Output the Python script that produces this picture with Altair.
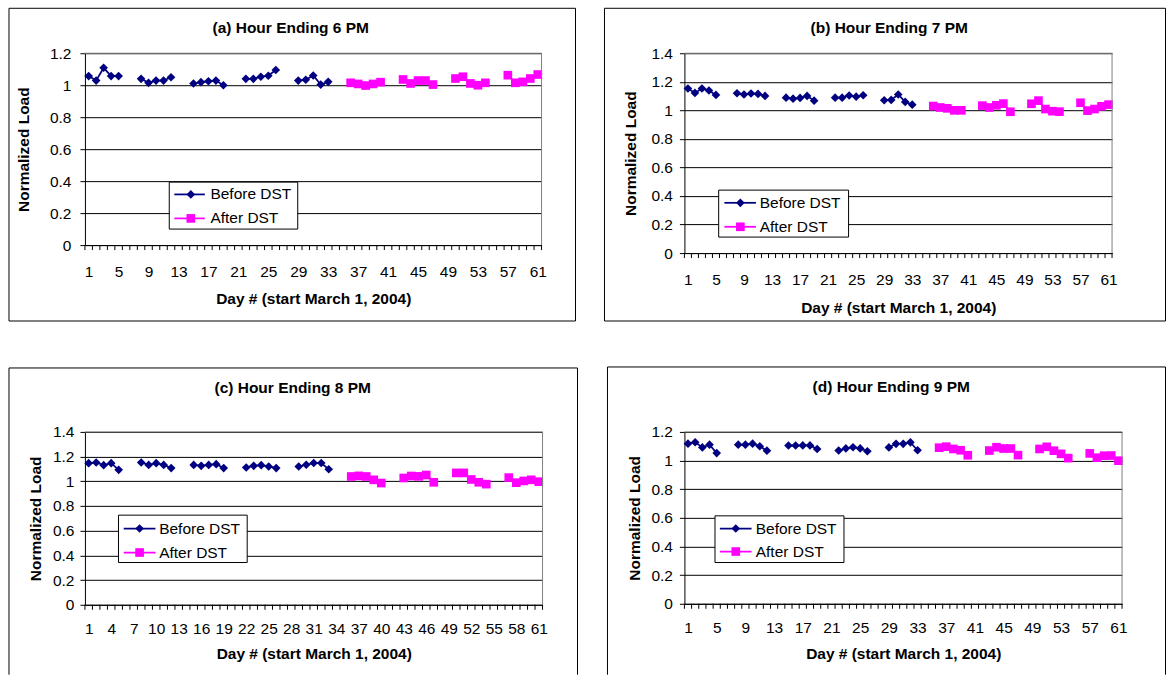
import altair as alt
import pandas as pd

# ---------------- data ----------------
days = list(range(1, 62))
days_before = [1, 2, 3, 4, 5, 8, 9, 10, 11, 12, 15, 16, 17, 18, 19,
               22, 23, 24, 25, 26, 29, 30, 31, 32, 33]
days_after = [36, 37, 38, 39, 40, 43, 44, 45, 46, 47, 50, 51, 52, 53, 54,
              57, 58, 59, 60, 61]
series_names = ["Before DST", "After DST"]
series_colors = ["#000080", "#FF00FF"]
series_shapes = ["diamond", "square"]

titles = ["(a) Hour Ending 6 PM", "(b) Hour Ending 7 PM",
          "(c) Hour Ending 8 PM", "(d) Hour Ending 9 PM"]
x_title = "Day # (start March 1, 2004)"
y_title = "Normalized Load"

a_before = [1.057, 1.029, 1.109, 1.057, 1.057,
            1.040, 1.015, 1.029, 1.029, 1.050,
            1.011, 1.019, 1.025, 1.029, 1.000,
            1.040, 1.040, 1.053, 1.059, 1.095,
            1.029, 1.034, 1.061, 1.004, 1.021]
a_after = [1.015, 1.008, 0.998, 1.008, 1.019,
           1.036, 1.011, 1.029, 1.029, 1.004,
           1.042, 1.053, 1.011, 1.000, 1.015,
           1.063, 1.015, 1.021, 1.042, 1.067]

b_before = [1.153, 1.122, 1.153, 1.139, 1.108,
            1.120, 1.111, 1.118, 1.115, 1.101,
            1.089, 1.082, 1.087, 1.101, 1.068,
            1.089, 1.089, 1.104, 1.096, 1.106,
            1.071, 1.073, 1.111, 1.059, 1.040]
b_after = [1.030, 1.020, 1.014, 1.000, 1.000,
           1.033, 1.020, 1.035, 1.047, 0.990,
           1.046, 1.068, 1.009, 0.994, 0.991,
           1.053, 0.998, 1.009, 1.028, 1.040]

c_before = [1.147, 1.152, 1.131, 1.147, 1.093,
            1.152, 1.133, 1.147, 1.133, 1.107,
            1.133, 1.125, 1.133, 1.139, 1.107,
            1.112, 1.125, 1.131, 1.120, 1.107,
            1.120, 1.134, 1.148, 1.148, 1.098]
c_after = [1.039, 1.044, 1.039, 1.012, 0.986,
           1.027, 1.043, 1.040, 1.051, 0.992,
           1.068, 1.068, 1.015, 0.992, 0.977,
           1.030, 0.989, 1.003, 1.012, 0.997]

d_before = [1.118, 1.128, 1.092, 1.111, 1.052,
            1.111, 1.111, 1.118, 1.100, 1.069,
            1.105, 1.105, 1.106, 1.106, 1.081,
            1.070, 1.085, 1.093, 1.085, 1.065,
            1.092, 1.117, 1.117, 1.127, 1.072]
d_after = [1.090, 1.097, 1.081, 1.072, 1.037,
           1.070, 1.093, 1.084, 1.084, 1.038,
           1.081, 1.096, 1.069, 1.047, 1.017,
           1.050, 1.020, 1.034, 1.035, 0.999]

panel_before = [a_before, b_before, c_before, d_before]
panel_after = [a_after, b_after, c_after, d_after]
y_max = [1.2, 1.4, 1.4, 1.2]
label_step = [4, 4, 3, 4]

# ---------------- layout (pixels, relative to each plot area) ----------------
FONT = "Liberation Sans"
FS = 15.5
G = [
    dict(w=457, h=192, border=(-76, 491, -45, 268), open_bottom=False, title=(206, -25),
         ytit=-56.4, ylab=9, xlab=31, xtit=58, box=(84.4, 213, 129, 176),
         rows=(141.3, 165.3), seg=(89.5, 120), mk=106, tx=125.6),
    dict(w=428, h=200, border=(-80, 481.5, -45, 268), open_bottom=False, title=(205, -25),
         ytit=-48.5, ylab=7, xlab=31, xtit=59, box=(34.3, 164.3, 137, 184),
         rows=(149.7, 173.7), seg=(40, 71.6), mk=56, tx=75.4),
    dict(w=458, h=173, border=(-76, 493, -64, 243), open_bottom=True, title=(208, -44),
         ytit=-44, ylab=6, xlab=29, xtit=54, box=(33.6, 162.4, 83.3, 130.7),
         rows=(96.7, 120.7), seg=(38.8, 70.6), mk=54.7, tx=74.3),
    dict(w=438, h=172, border=(-77, 481.5, -65, 243), open_bottom=True, title=(207, -45),
         ytit=-45, ylab=7, xlab=29, xtit=55, box=(30.6, 159.7, 84, 130.7),
         rows=(96.7, 119.7), seg=(35.5, 67.2), mk=51.4, tx=71.4),
]


def make_panel(i):
    g = G[i]
    w, h = g["w"], g["h"]
    before, after = panel_before[i], panel_after[i]
    df = pd.DataFrame({
        "day": days_before + days_after,
        "value": before + after,
        "series": [series_names[0]] * len(days_before) + [series_names[1]] * len(days_after),
    })
    df["week"] = (df["day"] - 1) // 7

    xs = alt.Scale(domain=[days[0] - 0.5, days[-1] + 0.5], nice=False, zero=False)
    ys = alt.Scale(domain=[0, y_max[i]], nice=False)
    n = int(round(y_max[i] / 0.2))
    yvals = [round(k * 0.2, 1) for k in range(n + 1)]
    xvals = days[::label_step[i]]

    x_axis = alt.Axis(values=xvals, ticks=False, grid=False, domainColor="black",
                      labelPadding=g["xlab"], labelBaseline="alphabetic", labelFont=FONT,
                      labelFontSize=FS, labelColor="black", labelFlush=False,
                      labelOverlap=False, title=x_title, titleFont=FONT, titleFontSize=FS,
                      titleFontWeight="bold", titleColor="black", titleX=w / 2,
                      titleY=g["xtit"], titleBaseline="alphabetic", titleAlign="center",
                      zindex=0)
    y_axis = alt.Axis(values=yvals, format="~g", tickSize=5, tickColor="black",
                      domainColor="black", grid=True, gridColor="black", gridWidth=1,
                      labelPadding=g["ylab"], labelFont=FONT, labelFontSize=FS,
                      labelColor="black", labelBaseline="middle", labelFlush=False,
                      labelOverlap=False, title=y_title, titleFont=FONT, titleFontSize=FS,
                      titleFontWeight="bold", titleColor="black", titleX=g["ytit"],
                      titleY=h / 2, titleAngle=270, titleBaseline="alphabetic",
                      titleAlign="center", zindex=0)

    cscale = alt.Scale(domain=series_names, range=series_colors)
    sscale = alt.Scale(domain=series_names, range=series_shapes)
    X = alt.X("day:Q", scale=xs, axis=x_axis)
    Y = alt.Y("value:Q", scale=ys, axis=y_axis)

    one = pd.DataFrame({"k": [0]})
    layers = []

    # chart-area border
    bx1, bx2, by1, by2 = g["border"]
    if g["open_bottom"]:
        layers.append(alt.Chart(one).mark_rule(color="black", strokeWidth=1).encode(
            x=alt.value(bx1), y=alt.value(by1), y2=alt.value(by2)))
        layers.append(alt.Chart(one).mark_rule(color="black", strokeWidth=1).encode(
            x=alt.value(bx2), y=alt.value(by1), y2=alt.value(by2)))
        layers.append(alt.Chart(one).mark_rule(color="black", strokeWidth=1).encode(
            x=alt.value(bx1), x2=alt.value(bx2), y=alt.value(by1)))
    else:
        layers.append(alt.Chart(one).mark_rect(fillOpacity=0, stroke="black", strokeWidth=1).encode(
            x=alt.value(bx1), x2=alt.value(bx2), y=alt.value(by1), y2=alt.value(by2)))

    # data lines (broken at weekends) and markers
    layers.append(alt.Chart(df).mark_line(strokeWidth=1.75).encode(
        x=X, y=Y, color=alt.Color("series:N", scale=cscale, legend=None), detail="week:N"))
    layers.append(alt.Chart(df).mark_point(filled=True, opacity=1, size=75).encode(
        x=X, y=Y, color=alt.Color("series:N", scale=cscale, legend=None),
        shape=alt.Shape("series:N", scale=sscale, legend=None)))

    # category-boundary tick marks on x axis
    tdf = pd.DataFrame({"day": [d - 0.5 for d in days] + [days[-1] + 0.5]})
    layers.append(alt.Chart(tdf).mark_rule(color="black", strokeWidth=1).encode(
        x=X, y=alt.value(h), y2=alt.value(h + 5)))

    # plot-area border (top, right) in gray
    layers.append(alt.Chart(one).mark_rule(color="#808080", strokeWidth=1).encode(
        x=alt.value(0), x2=alt.value(w), y=alt.value(0)))
    layers.append(alt.Chart(one).mark_rule(color="#808080", strokeWidth=1).encode(
        x=alt.value(w), y=alt.value(0), y2=alt.value(h)))

    # legend
    lx1, lx2, ly1, ly2 = g["box"]
    layers.append(alt.Chart(one).mark_rect(fill="white", stroke="black", strokeWidth=1).encode(
        x=alt.value(lx1), x2=alt.value(lx2), y=alt.value(ly1), y2=alt.value(ly2)))
    for k, name in enumerate(series_names):
        ldf = pd.DataFrame({"series": [name]})
        ry = g["rows"][k]
        layers.append(alt.Chart(ldf).mark_rule(color=series_colors[k], strokeWidth=1.75).encode(
            x=alt.value(g["seg"][0]), x2=alt.value(g["seg"][1]), y=alt.value(ry)))
        layers.append(alt.Chart(ldf).mark_point(filled=True, opacity=1, size=75,
                                                shape=series_shapes[k],
                                                color=series_colors[k]).encode(
            x=alt.value(g["mk"]), y=alt.value(ry)))
        layers.append(alt.Chart(ldf).mark_text(font=FONT, fontSize=FS, color="black",
                                               align="left", baseline="middle").encode(
            text="series:N", x=alt.value(g["tx"]), y=alt.value(ry)))

    # chart title
    tdf2 = pd.DataFrame({"t": [titles[i]]})
    layers.append(alt.Chart(tdf2).mark_text(font=FONT, fontSize=FS, fontWeight="bold",
                                            color="black", align="center",
                                            baseline="middle").encode(
        text="t:N", x=alt.value(g["title"][0]), y=alt.value(g["title"][1])))

    return alt.layer(*layers).properties(width=w, height=h)


chart = alt.concat(
    make_panel(0), make_panel(1), make_panel(2), make_panel(3),
    columns=2, spacing={"row": 179, "column": 142}, bounds="flush",
).properties(
    padding={"left": 8, "top": 7, "right": 0, "bottom": 0},
    background="white",
).configure_view(stroke="transparent")

chart.save("out.html", embed_options={"renderer": "svg", "actions": False})
